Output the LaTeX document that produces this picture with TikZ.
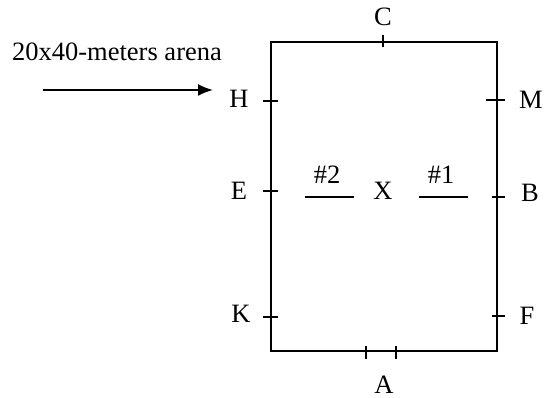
\documentclass[tikz,border=0pt]{standalone}
\usepackage{fontspec}
\setmainfont{Liberation Serif}
\usetikzlibrary{arrows.meta}

\begin{document}
\begin{tikzpicture}[
  x=1pt, y=-1pt,
  every node/.style={font=\fontsize{26.5}{31}\selectfont, inner sep=0pt},
  wall/.style={line width=1.6pt},
  marker/.style={line width=1.6pt},
  pole/.style={line width=1.5pt},
  arr/.style={-{Latex[length=15pt, width=12pt]}, line width=1.8pt}
]
\useasboundingbox (0,0) rectangle (554,398);
% arena
\draw[wall] (271,42) rectangle (497,351);
% letter markers
\draw[marker] (383,35) -- (383,47);
\draw[marker] (263,101) -- (278,101);
\draw[marker] (486,100) -- (505,100);
\draw[marker] (263,191) -- (278,191);
\draw[marker] (492,197) -- (505,197);
\draw[marker] (263,317) -- (278,317);
\draw[marker] (492,316) -- (505,316);
\draw[marker] (366,346) -- (366,359);
\draw[marker] (396,346) -- (396,359);
% letters
\node (C) at (383,17) {C};
\node (H) at (239,99) {H};
\node (M) at (531,100) {M};
\node (E) at (239,191) {E};
\node (X) at (383,191) {X};
\node (B) at (530,193) {B};
\node (K) at (241,314) {K};
\node (F) at (527,316) {F};
\node (A) at (384,385) {A};
% poles
\node (p2) at (327,175) {\#2};
\node (p1) at (441,175) {\#1};
\draw[pole] (305,197) -- (354,197);
\draw[pole] (419,197) -- (468,197);
% caption
\node (size) at (117,52) {20x40-meters arena};
\coordinate (tail) at (43,90);
\coordinate (head) at (213,90);
\draw[arr] (tail) -- (head);
\end{tikzpicture}
\end{document}
